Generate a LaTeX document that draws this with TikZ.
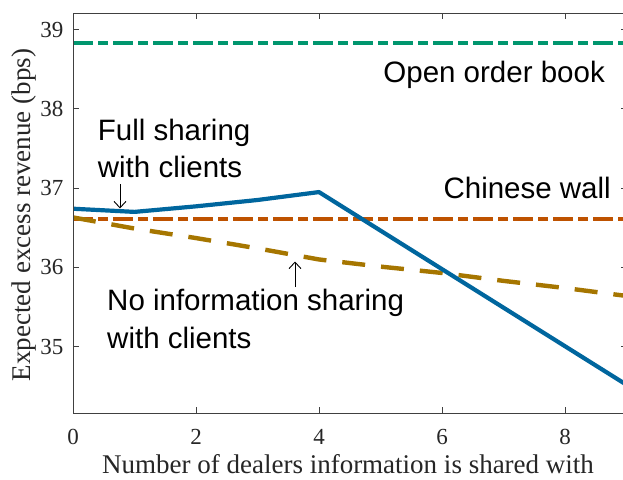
\documentclass[tikz,border=0pt]{standalone}
\usepackage{fontspec}
\setmainfont{Liberation Serif}
\setsansfont{Liberation Sans}
\usetikzlibrary{arrows.meta}
\definecolor{cblue}{RGB}{0,102,158}
\definecolor{corange}{RGB}{190,82,0}
\definecolor{cgreen}{RGB}{0,150,110}
\definecolor{cbrown}{RGB}{166,118,0}
\definecolor{caxis}{RGB}{64,64,64}
\tikzset{
  axisline/.style={draw=caxis, line width=0.9pt},
  ticklab/.style={font=\fontsize{23}{27}\selectfont, text=black!85, inner sep=0pt},
  axlab/.style={font=\fontsize{27}{32}\selectfont, text=black!85, inner sep=0pt},
  annot/.style={font=\sffamily\fontsize{29.5}{37}\selectfont, inner sep=0pt, align=left},
  dashdot/.style={line width=4.2pt, dash pattern=on 20pt off 5pt on 10pt off 5pt},
  dashline/.style={line width=4.4pt, dash pattern=on 23pt off 16pt},
  annarrow/.style={draw=black, line width=0.9pt, -{Straight Barb[length=6.5pt,width=12pt]}}
}
\begin{document}
\begin{tikzpicture}[x=1pt,y=1pt]
\useasboundingbox (0,0) rectangle (623,-479);
\fill[white] (0,0) rectangle (623,-479);
\begin{scope}
\clip (73,-13) rectangle (623,-413.3);
\begin{scope}[shift={(73pt,-3122.2pt)}, x=61.5pt, y=79.3pt]
  \draw[cgreen, dashdot] (0,38.83) -- (9.2,38.83);
  \draw[corange, dashdot] (0,36.615) -- (9.2,36.615);
  \draw[cbrown, dashline] plot coordinates {(0,36.63) (1,36.49) (2,36.37) (3,36.24) (4,36.10) (5,36.01) (6,35.93) (7,35.83) (8,35.74) (9,35.64)};
  \draw[cblue, line width=4.2pt, line join=round] plot coordinates {(0,36.74) (1,36.70) (2,36.77) (3,36.85) (4,36.95) (9,34.52)};
\end{scope}
\end{scope}
% axes box
\draw[axisline] (73,-13) -- (73,-413.3) -- (630,-413.3);
\draw[axisline] (73,-13) -- (630,-13);
% x ticks
\foreach \i/\l in {0/0,2/2,4/4,6/6,8/8}{
  \pgfmathsetmacro{\xx}{73+61.5*\i}
  \draw[axisline] (\xx,-413.3) -- (\xx,-407.3);
  \draw[axisline] (\xx,-13) -- (\xx,-19);
  \node[ticklab, anchor=base] (xt\i) at (\xx,-444) {\l};
}
% y ticks
\foreach \v in {35,36,37,38,39}{
  \pgfmathsetmacro{\yy}{-346.7+(\v-35)*79.3}
  \draw[axisline] (73,\yy) -- (79,\yy);
  \draw[axisline] (626.5,\yy) -- (620.5,\yy);
  \node[ticklab, anchor=east] (yt\v) at (63.5,\yy) {\v};
}
% axis labels
\node[axlab, anchor=base] (xlabel) at (348,-473) {Number of dealers information is shared with};
\node[axlab, anchor=base, rotate=90] (ylabel) at (30,-215) {Expected excess revenue (bps)};
% annotations
\node[annot, anchor=base east] (oob) at (605,-82.7) {Open order book};
\node[annot, anchor=base east] (cw) at (611,-198) {Chinese wall};
\node[annot, anchor=base west] (fs1) at (97.7,-140) {Full sharing};
\node[annot, anchor=base west] (fs2) at (97.7,-177) {with clients};
\node[annot, anchor=base west] (ni1) at (107,-310.7) {No information sharing};
\node[annot, anchor=base west] (ni2) at (107,-348) {with clients};
\coordinate (fsA) at (120,-184);
\coordinate (fsB) at (120,-208.5);
\coordinate (niA) at (295,-287);
\coordinate (niB) at (295,-261.5);
\draw[annarrow] (fsA) -- (fsB);
\draw[annarrow] (niA) -- (niB);
\end{tikzpicture}
\end{document}
